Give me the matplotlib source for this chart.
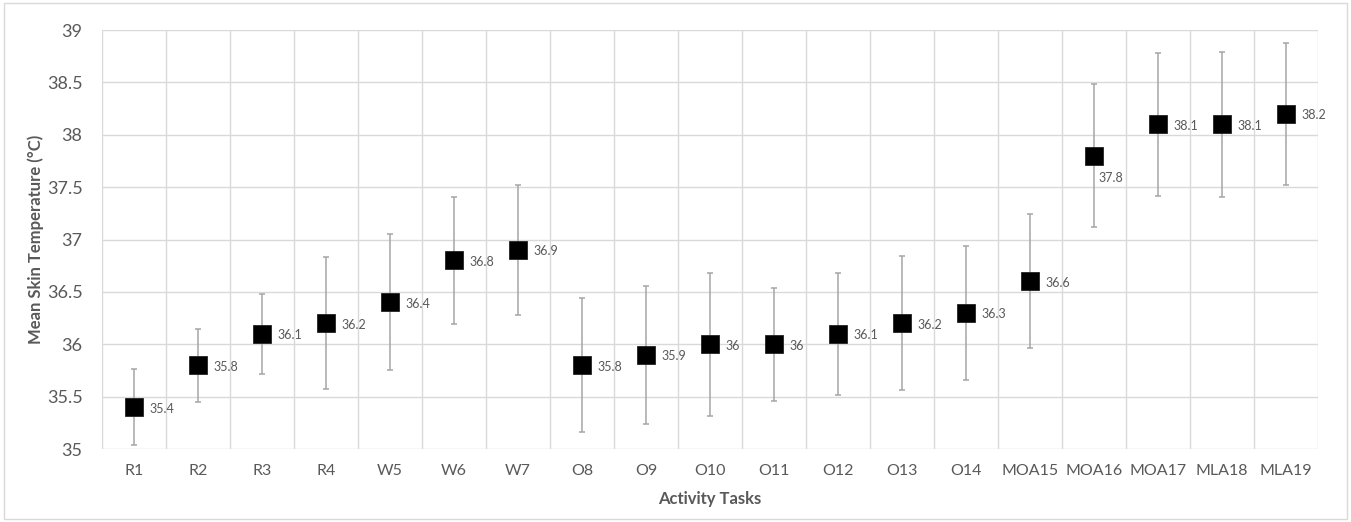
import matplotlib
matplotlib.use('Agg')
import matplotlib.pyplot as plt
import numpy as np

tasks = ['R1', 'R2', 'R3', 'R4', 'W5', 'W6', 'W7', 'O8', 'O9', 'O10', 'O11',
         'O12', 'O13', 'O14', 'MOA15', 'MOA16', 'MOA17', 'MLA18', 'MLA19']
mean_temp = [35.4, 35.8, 36.1, 36.2, 36.4, 36.8, 36.9, 35.8, 35.9, 36.0, 36.0,
             36.1, 36.2, 36.3, 36.6, 37.8, 38.1, 38.1, 38.2]
sd_temp = [0.36, 0.35, 0.38, 0.63, 0.65, 0.61, 0.62, 0.64, 0.66, 0.68, 0.54,
           0.58, 0.64, 0.64, 0.64, 0.68, 0.68, 0.69, 0.68]
value_labels = ['35.4', '35.8', '36.1', '36.2', '36.4', '36.8', '36.9', '35.8', '35.9', '36', '36',
                '36.1', '36.2', '36.3', '36.6', '37.8', '38.1', '38.1', '38.2']

plt.rcParams['font.family'] = ['Lato', 'DejaVu Sans']
grey = '#595959'

fig = plt.figure(figsize=(13.51, 5.22), dpi=100)
ax = fig.add_axes([0.0755, 0.1398, 0.9001, 0.8027])

x = np.arange(len(tasks))
ax.errorbar(x, mean_temp, yerr=sd_temp, fmt='none', ecolor='#a6a6a6',
            elinewidth=1.1, capsize=2.5, capthick=1.1, zorder=2)
ax.plot(x, mean_temp, 's', color='black', markersize=12.5,
        markeredgecolor='#222222', markeredgewidth=0.6, zorder=3)

for i, (v, lab) in enumerate(zip(mean_temp, value_labels)):
    if lab == '37.8':
        ax.annotate(lab, (x[i], v), xytext=(3, -16), textcoords='offset points',
                    fontsize=9, color=grey, va='center', ha='left')
    else:
        ax.annotate(lab, (x[i], v), xytext=(11, -1), textcoords='offset points',
                    fontsize=9, color=grey, va='center', ha='left')

ax.set_xlim(-0.5, len(tasks) - 0.5)
ax.set_ylim(35, 39)
ax.set_yticks(np.arange(35, 39.01, 0.5))
ax.set_yticklabels(['35', '35.5', '36', '36.5', '37', '37.5', '38', '38.5', '39'])
ax.set_xticks(x)
ax.set_xticklabels(tasks)
ax.set_xticks(np.arange(-0.5, len(tasks), 1), minor=True)

ax.grid(True, which='major', axis='y', color='#d9d9d9', linewidth=1)
ax.grid(True, which='minor', axis='x', color='#d9d9d9', linewidth=1)
ax.set_axisbelow(True)
for s in ax.spines.values():
    s.set_visible(False)
ax.tick_params(axis='both', which='both', length=0)
ax.tick_params(axis='y', labelsize=13, labelcolor=grey, pad=14)
ax.tick_params(axis='x', labelsize=11.5, labelcolor=grey, pad=11)

ax.set_xlabel('Activity Tasks', fontsize=12, fontweight='bold', color=grey, labelpad=9)
ax.set_ylabel('Mean Skin Temperature (°C)', fontsize=12, fontweight='bold', color=grey, labelpad=2)

fig.add_artist(plt.Rectangle((0.003, 0.005), 0.994, 0.99, transform=fig.transFigure,
                             fill=False, edgecolor='#d9d9d9', linewidth=1))

fig.savefig('out.png', dpi=100)
